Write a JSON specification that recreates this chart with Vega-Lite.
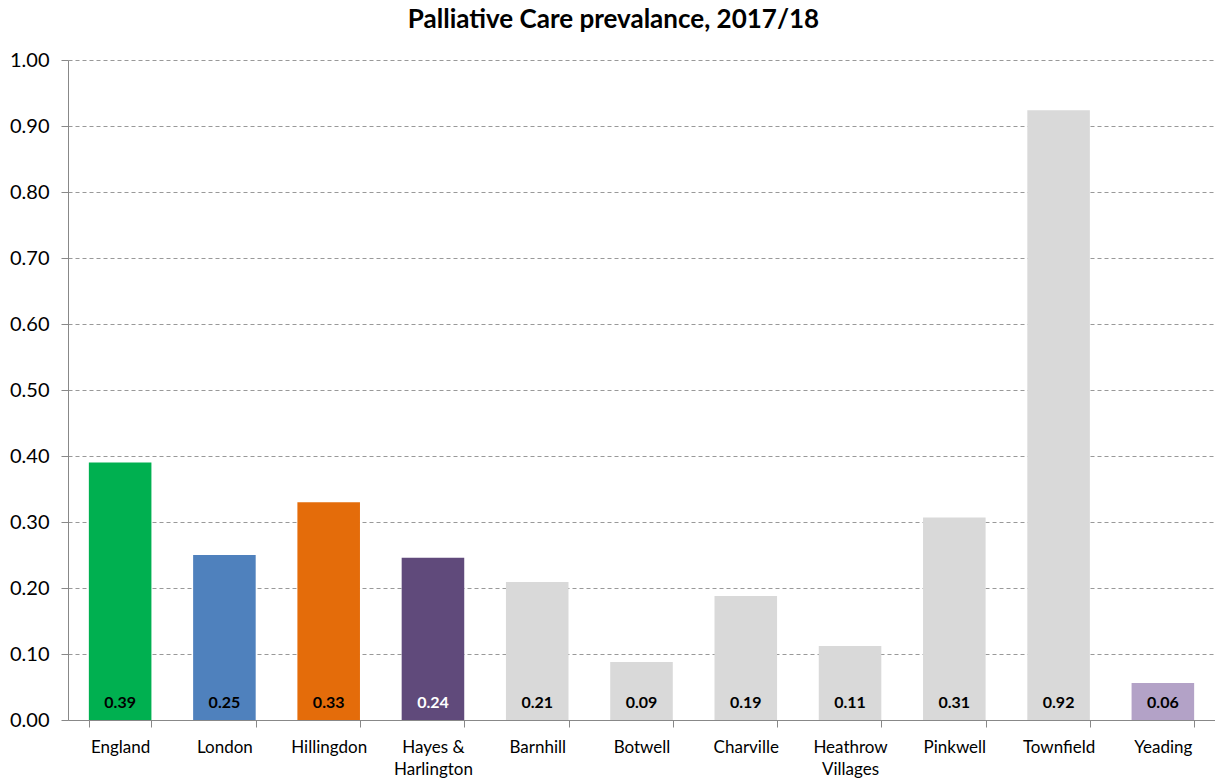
{
  "$schema": "https://vega.github.io/schema/vega-lite/v6.json",
  "width": 1147,
  "height": 660,
  "autosize": {"type": "none"},
  "padding": {"left": 68, "top": 60, "right": 0, "bottom": 60},
  "background": "white",
  "title": {
    "text": "Palliative Care prevalance, 2017/18",
    "font": "Lato",
    "fontSize": 26,
    "fontWeight": "bold",
    "color": "black",
    "anchor": "middle",
    "dx": -28,
    "offset": 17
  },
  "config": {
    "view": {"stroke": null},
    "axis": {"labelFont": "Lato", "labelColor": "#000000"}
  },
  "data": {
    "values": [
      {"area": "England", "value": 0.39, "label": "0.39"},
      {"area": "London", "value": 0.25, "label": "0.25"},
      {"area": "Hillingdon", "value": 0.33, "label": "0.33"},
      {"area": "Hayes & Harlington", "value": 0.246, "label": "0.24"},
      {"area": "Barnhill", "value": 0.209, "label": "0.21"},
      {"area": "Botwell", "value": 0.088, "label": "0.09"},
      {"area": "Charville", "value": 0.188, "label": "0.19"},
      {"area": "Heathrow Villages", "value": 0.112, "label": "0.11"},
      {"area": "Pinkwell", "value": 0.307, "label": "0.31"},
      {"area": "Townfield", "value": 0.924, "label": "0.92"},
      {"area": "Yeading", "value": 0.056, "label": "0.06"}
    ]
  },
  "encoding": {
    "x": {
      "field": "area",
      "type": "nominal",
      "sort": null,
      "scale": {"paddingInner": 0.4, "paddingOuter": 0.2},
      "axis": {
        "title": null,
        "labelAngle": 0,
        "labelFontSize": 17,
        "labelPadding": 12,
        "tickBand": "extent",
        "tickSize": 7,
        "tickColor": "#888888",
        "domainColor": "#888888",
        "grid": false,
        "labelExpr": "datum.label == 'Hayes & Harlington' ? ['Hayes &', 'Harlington'] : datum.label == 'Heathrow Villages' ? ['Heathrow', 'Villages'] : datum.label",
        "labelLineHeight": 22
      }
    }
  },
  "layer": [
    {
      "mark": {"type": "bar"},
      "encoding": {
        "y": {
          "field": "value",
          "type": "quantitative",
          "scale": {"domain": [0, 1], "nice": false},
          "axis": {
            "title": null,
            "values": [0, 0.1, 0.2, 0.3, 0.4, 0.5, 0.6, 0.7, 0.8, 0.9, 1.0],
            "format": ".2f",
            "labelFontSize": 20,
            "labelPadding": 12,
            "tickSize": 7,
            "tickColor": "#888888",
            "domainColor": "#888888",
            "gridColor": "#999999",
            "gridDash": [4, 3],
            "gridWidth": 1
          }
        },
        "color": {
          "field": "area",
          "type": "nominal",
          "sort": null,
          "legend": null,
          "scale": {
            "domain": ["England", "London", "Hillingdon", "Hayes & Harlington", "Barnhill", "Botwell", "Charville", "Heathrow Villages", "Pinkwell", "Townfield", "Yeading"],
            "range": ["#00B050", "#4F81BD", "#E46C0A", "#604A7B", "#D9D9D9", "#D9D9D9", "#D9D9D9", "#D9D9D9", "#D9D9D9", "#D9D9D9", "#B3A2C7"]
          }
        }
      }
    },
    {
      "mark": {"type": "text", "font": "Lato", "fontSize": 16, "fontWeight": "bold", "baseline": "middle", "dy": -17},
      "encoding": {
        "y": {"datum": 0, "type": "quantitative"},
        "text": {"field": "label"},
        "color": {
          "condition": {"test": "datum.area === 'Hayes & Harlington'", "value": "white"},
          "value": "black"
        }
      }
    }
  ]
}
